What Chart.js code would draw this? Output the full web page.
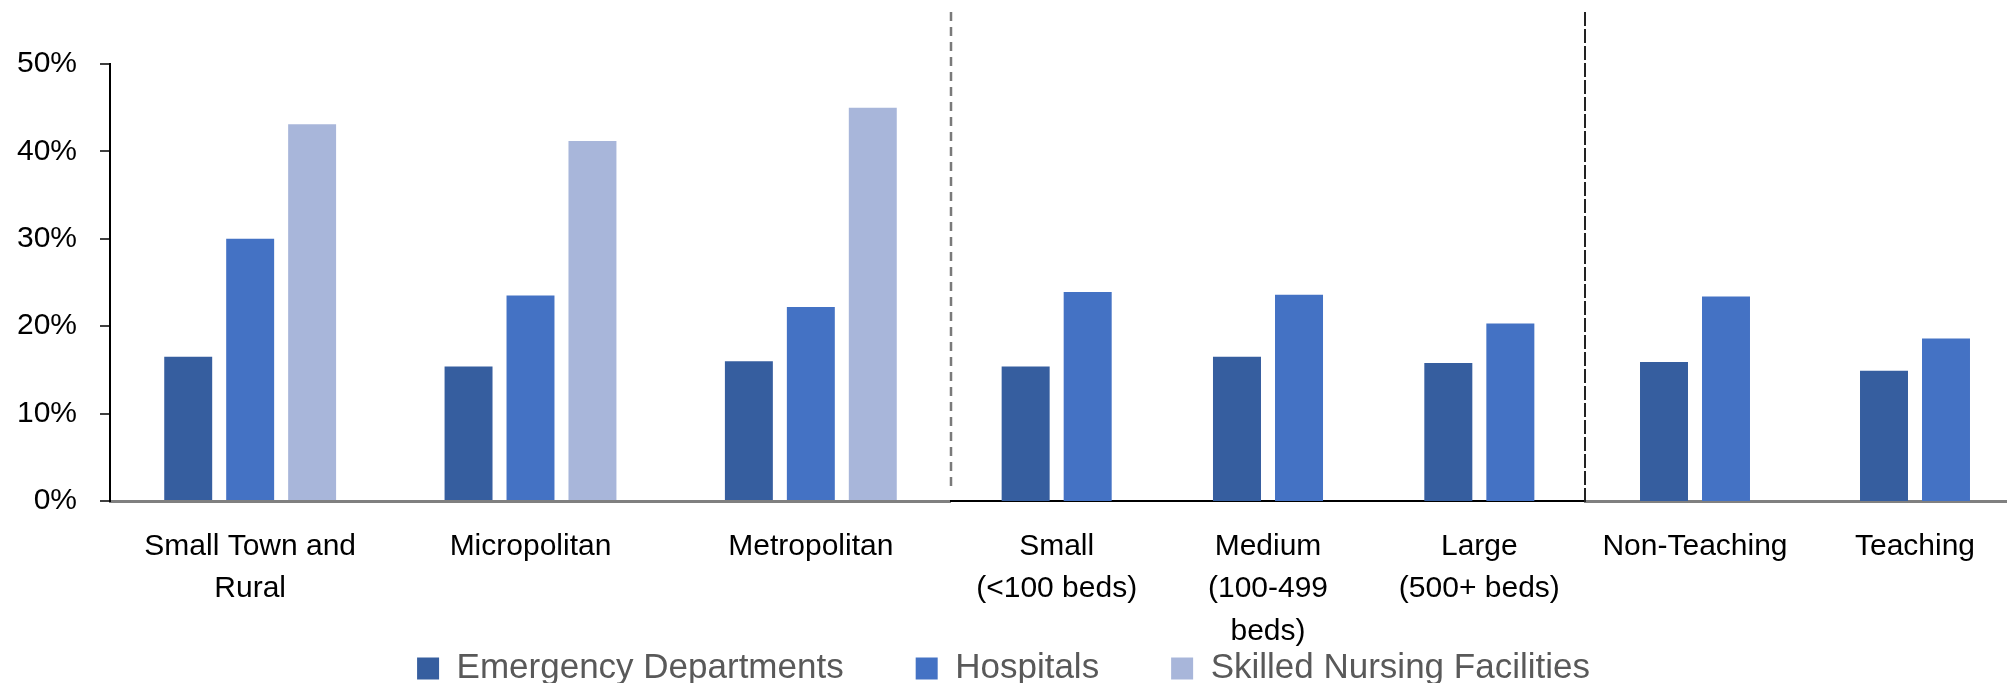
<!DOCTYPE html>
<html>
<head>
<meta charset="utf-8">
<script src="https://cdn.jsdelivr.net/npm/chart.js@4.4.1/dist/chart.umd.min.js"></script>
<style>
    html, body { margin: 0; padding: 0; background: #fff; overflow: hidden; width: 2007px; height: 683px; }
    canvas { position: absolute; top: 0; }
</style>
</head>
<body>
<canvas id="chart-geo" width="951" height="683" style="left:0px"></canvas>
<canvas id="chart-size" width="645" height="683" style="left:940px"></canvas>
<canvas id="chart-teach" width="450" height="683" style="left:1575px"></canvas>
<canvas id="chart-legend" width="2007" height="250" style="left:0px;top:579px"></canvas>
<script>
// categories, in order: location / bed size / teaching status
var categories = [["Small Town and", "Rural"], "Micropolitan", "Metropolitan",
    ["Small", "(<100 beds)"], ["Medium", "(100-499", "beds)"], ["Large", "(500+ beds)"],
    "Non-Teaching", "Teaching"];
var groupSizes = [3, 3, 2];

var seriesNames = ["Emergency Departments", "Hospitals", "Skilled Nursing Facilities"];
var emergencyDepts = [16.5, 15.4, 16.0, 15.4, 16.5, 15.8, 15.9, 14.9];
var hospitals = [30.0, 23.5, 22.2, 23.9, 23.6, 20.3, 23.4, 18.6];
var nursingFacilities = [43.1, 41.2, 45.0, null, null, null, null, null];

var yTicks = [0, 10, 20, 30, 40, 50];

var seriesColors = ["#365e9f", "#4472c4", "#a8b6da"];

Chart.defaults.font.family = "'Liberation Sans', Arial, sans-serif";

function makeDatasets(start, count) {
    var values = [emergencyDepts, hospitals, nursingFacilities];
    return seriesNames.map(function (name, i) {
        return {
            label: name,
            data: values[i].slice(start, start + count),
            backgroundColor: seriesColors[i],
            borderWidth: 0
        };
    });
}

// dashed separator on the left edge of a chart area
function divider(color, width, dash, extra) {
    return {
        id: 'divider',
        afterDatasetsDraw: function (chart) {
            var ctx = chart.ctx;
            var x = chart.chartArea.left;
            ctx.save();
            ctx.strokeStyle = color;
            ctx.lineWidth = width;
            ctx.setLineDash(dash);
            ctx.beginPath();
            ctx.moveTo(x, 12);
            ctx.lineTo(x, chart.chartArea.bottom + extra);
            ctx.stroke();
            ctx.restore();
        }
    };
}

function drawSection(id, start, count, opt) {
    var ctx = document.getElementById(id).getContext("2d");
    return new Chart(ctx, {
        type: "bar",
        data: {
            labels: categories.slice(start, start + count),
            datasets: makeDatasets(start, count)
        },
        options: {
            responsive: false,
            animation: false,
            events: [],
            layout: { padding: { top: 64, left: opt.padLeft, right: 0, bottom: 0 } },
            datasets: {
                bar: { categoryPercentage: opt.catPct, barPercentage: 0.774, skipNull: true }
            },
            plugins: { legend: { display: false }, tooltip: { enabled: false } },
            scales: {
                x: {
                    grid: { display: false, drawTicks: false },
                    border: { display: true, color: opt.lineColor, width: opt.lineWidth },
                    ticks: { color: "#000", font: { size: 30, lineHeight: 1.42 }, padding: 24, maxRotation: 0, autoSkip: false },
                    afterFit: function (s) { s.height = 182; }
                },
                y: {
                    display: opt.showY,
                    min: yTicks[0],
                    max: yTicks[yTicks.length - 1],
                    ticks: {
                        stepSize: yTicks[1] - yTicks[0],
                        color: "#000",
                        font: { size: 30 },
                        padding: 23,
                        callback: function (v) { return v + "%"; }
                    },
                    grid: { drawOnChartArea: false, drawTicks: true, tickLength: 10, color: "#3f3f3f", lineWidth: 2 },
                    border: { display: true, color: "#000", width: 2 },
                    afterFit: function (s) { if (opt.showY) s.width = 110; }
                }
            }
        },
        plugins: opt.plugins || []
    });
}

var start = 0;
var chartGeo = drawSection("chart-geo", start, groupSizes[0],
    { catPct: 0.663, lineColor: "#808080", lineWidth: 3, showY: true, padLeft: 0 });
start += groupSizes[0];
var chartSize = drawSection("chart-size", start, groupSizes[1],
    { catPct: 0.587, lineColor: "#000", lineWidth: 2, showY: false, padLeft: 11,
      plugins: [divider("#7a7a7a", 2.5, [9, 6], -12)] });
start += groupSizes[1];
var chartTeach = drawSection("chart-teach", start, groupSizes[2],
    { catPct: 0.5636, lineColor: "#808080", lineWidth: 3, showY: false, padLeft: 10,
      plugins: [divider("#222", 2, [14, 3], 2)] });

// shared legend along the bottom
new Chart(document.getElementById("chart-legend").getContext("2d"), {
    type: "bar",
    data: { labels: [], datasets: makeDatasets(0, 0) },
    options: {
        responsive: false,
        animation: false,
        events: [],
        scales: { x: { display: false }, y: { display: false } },
        plugins: {
            tooltip: { enabled: false },
            legend: {
                position: "top",
                labels: { color: "#595959", font: { size: 35 }, boxWidth: 22, boxHeight: 22, padding: 72 }
            }
        }
    }
});
</script>
</body>
</html>
